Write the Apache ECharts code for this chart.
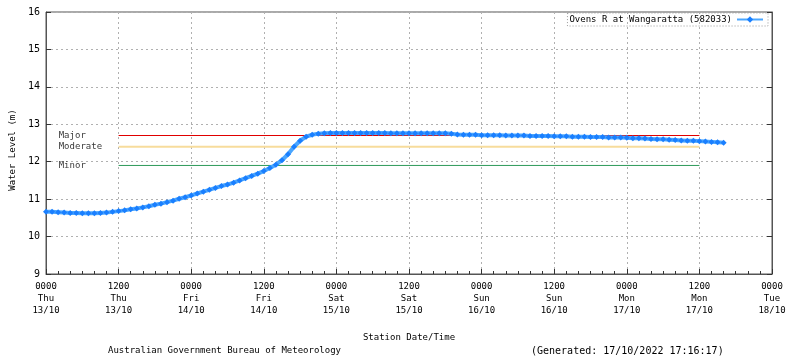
<!DOCTYPE html>
<html>
<head>
<meta charset="utf-8">
<script src="https://cdn.jsdelivr.net/npm/echarts@6/dist/echarts.min.js"></script>
<style>
html,body{margin:0;padding:0;background:#fff;}
#c{width:800px;height:358px;}
</style>
</head>
<body>
<div id="c"></div>
<script>
// hourly water levels from Thu 13/10 00:00 (hour 0) to Mon 17/10 16:00 (hour 112)
const levels = [
10.66,10.66,10.65,10.64,10.63,10.63,10.62,10.62,10.62,10.63,10.64,10.66,
10.68,10.70,10.73,10.75,10.78,10.81,10.85,10.88,10.92,10.96,11.01,11.05,
11.10,11.15,11.20,11.25,11.30,11.35,11.39,11.44,11.50,11.56,11.62,11.68,
11.75,11.83,11.92,12.04,12.20,12.40,12.56,12.67,12.72,12.75,12.76,12.77,
12.77,12.77,12.77,12.77,12.77,12.77,12.77,12.77,12.77,12.76,12.76,12.76,
12.76,12.76,12.76,12.76,12.76,12.76,12.76,12.75,12.73,12.72,12.72,12.72,
12.71,12.71,12.71,12.71,12.70,12.70,12.70,12.70,12.69,12.69,12.69,12.69,
12.68,12.68,12.68,12.67,12.67,12.67,12.66,12.66,12.66,12.65,12.65,12.65,
12.64,12.63,12.63,12.62,12.61,12.60,12.60,12.59,12.58,12.57,12.56,12.56,
12.55,12.54,12.53,12.52,12.51
];
const xTickLabels = [
"0000\nThu\n13/10","1200\nThu\n13/10","0000\nFri\n14/10","1200\nFri\n14/10",
"0000\nSat\n15/10","1200\nSat\n15/10","0000\nSun\n16/10","1200\nSun\n16/10",
"0000\nMon\n17/10","1200\nMon\n17/10","0000\nTue\n18/10"
];
const yTicks = [9,10,11,12,13,14,15,16];
const thresholdNames = ["Major","Moderate","Minor"];
const thresholdLevels = [12.7,12.4,11.9];
const thresholdStartHour = 12;
const thresholdEndHour = 108;
const thresholdLabelHour = 2.1;
const seriesName = "Ovens R at Wangaratta (582033)";

const FONT = "DejaVu Sans Mono";
const chart = echarts.init(document.getElementById('c'), null, {renderer:'canvas'});
const thrColors = ['#e00000','#f7dc9c','#2e9a5a'];
const thrWidths = [1,2,1];

const series = [];
thresholdNames.forEach((n,i)=>{
  series.push({
    name:n, type:'line', symbol:'none', silent:true, z:2,
    lineStyle:{color:thrColors[i], width:thrWidths[i]},
    data:[[thresholdStartHour,thresholdLevels[i]],[thresholdEndHour,thresholdLevels[i]]]
  });
  series.push({
    name:n+'_lbl', type:'scatter', symbolSize:0, silent:true,
    data:[[thresholdLabelHour,thresholdLevels[i]]],
    label:{show:true, position:'right', distance:0, formatter:n,
      fontFamily:FONT, fontSize:9, color:'#000'}
  });
});
series.push({
  name:seriesName, type:'line', z:5,
  symbol:'diamond', symbolSize:6, showAllSymbol:true,
  lineStyle:{color:'#4aa6ff', width:4},
  itemStyle:{color:'#1a7fff'},
  data: levels.map((v,i)=>[i,v])
});

chart.setOption({
  animation:false,
  backgroundColor:'#fff',
  textStyle:{fontFamily:FONT},
  grid:{left:42, right:28, top:12, bottom:84, show:true, borderColor:'#555', borderWidth:1},
  legend:{
    data:[seriesName], right:32, top:13, align:'right', orient:'vertical',
    itemWidth:26, itemHeight:8, itemGap:0,
    padding:[2,4,2,2],
    borderColor:'#999', borderWidth:1, borderType:[1,2],
    textStyle:{fontFamily:FONT, fontSize:9, color:'#000'}
  },
  xAxis:{
    type:'value', min:0, max:120, interval:12,
    axisLine:{show:true, lineStyle:{color:'#555'}},
    axisTick:{show:true, inside:true, length:5, lineStyle:{color:'#333'}},
    minorTick:{show:true, splitNumber:6, length:3, lineStyle:{color:'#333'}},
    splitLine:{show:true, lineStyle:{color:'#b0b0b0', type:[2,3]}},
    axisLabel:{fontFamily:FONT, fontSize:9, color:'#000', lineHeight:12, margin:7,
      formatter:(v)=> xTickLabels[Math.round(v/12)] || ''},
    name:'Station Date/Time', nameLocation:'middle', nameGap:59,
    nameTextStyle:{fontFamily:FONT, fontSize:9, color:'#000'}
  },
  yAxis:[{
    type:'value', min:yTicks[0], max:yTicks[yTicks.length-1], interval:1,
    axisLine:{show:true, lineStyle:{color:'#555'}},
    axisTick:{show:true, inside:true, length:5, lineStyle:{color:'#333'}},
    splitLine:{show:true, lineStyle:{color:'#b0b0b0', type:[2,3]}},
    axisLabel:{fontFamily:FONT, fontSize:10, color:'#000', margin:6},
    name:'Water Level (m)', nameLocation:'middle', nameGap:29, nameRotate:90,
    nameTextStyle:{fontFamily:FONT, fontSize:9, color:'#000', padding:[0,14,0,0]}
  },{
    type:'value', min:yTicks[0], max:yTicks[yTicks.length-1], interval:1, position:'right',
    axisLine:{show:true, lineStyle:{color:'#555'}},
    axisTick:{show:true, inside:true, length:5, lineStyle:{color:'#333'}},
    splitLine:{show:false}, axisLabel:{show:false}
  }],
  graphic:[
    {type:'text', left:108, top:346, style:{text:'Australian Government Bureau of Meteorology', font:'9px "DejaVu Sans Mono"', fill:'#000'}},
    {type:'text', left:531, top:346, style:{text:'(Generated: 17/10/2022 17:16:17)', font:'10px "DejaVu Sans Mono"', fill:'#000'}}
  ],
  series:series
});
</script>
</body>
</html>
